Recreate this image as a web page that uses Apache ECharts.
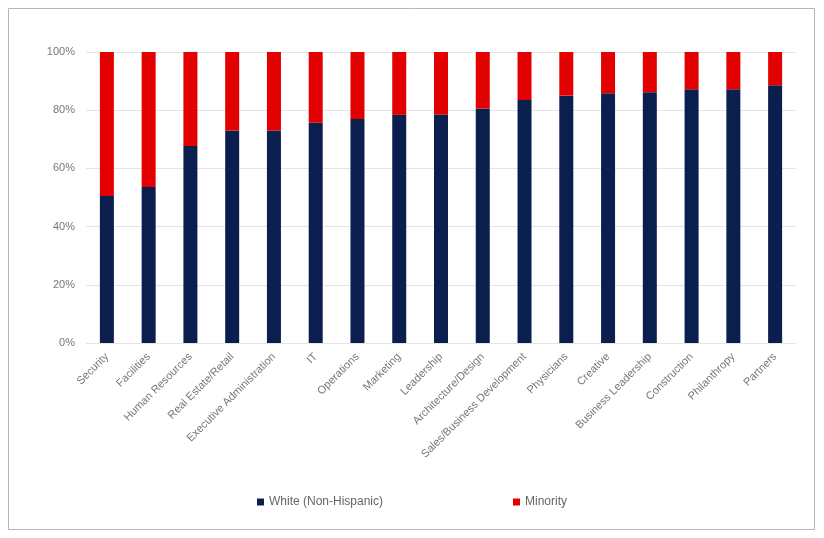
<!DOCTYPE html>
<html><head><meta charset="utf-8">
<script src="https://cdn.jsdelivr.net/npm/echarts@6/dist/echarts.min.js"></script>
<style>html,body{margin:0;padding:0;background:#fff}#c{width:824px;height:538px}</style>
</head><body><div id="c"></div>
<script>
var categories = ["Security","Facilities","Human Resources","Real Estate/Retail","Executive Administration","IT","Operations","Marketing","Leadership","Architecture/Design","Sales/Business Development","Physicians","Creative","Business Leadership","Construction","Philanthropy","Partners"];
var whiteShare = [50.5,53.6,67.7,73,73,75.7,77,78.4,78.5,80.6,83.5,85,85.8,86.2,87.2,87.2,88.6];
var minorityShare = whiteShare.map(function(v){return +(100-v).toFixed(1);});
var yTicks = [0,20,40,60,80,100];

var chart = echarts.init(document.getElementById('c'));
chart.setOption({
  animation:false,
  textStyle:{fontFamily:'Liberation Sans, Arial, sans-serif'},
  graphic:[{type:'rect',shape:{x:8.5,y:8.5,width:806,height:521},style:{fill:'none',stroke:'#b5b5b5',lineWidth:1}}],
  grid:{left:86,right:28,top:52,bottom:195},
  legend:{top:491,left:'center',itemWidth:7,itemHeight:7,itemGap:130,icon:'rect',
    textStyle:{color:'#666',fontSize:12},data:['White (Non-Hispanic)','Minority']},
  xAxis:{type:'category',data:categories,axisLine:{show:false},axisTick:{show:false},
    axisLabel:{rotate:45,color:'#777',fontSize:11,interval:0,margin:12}},
  yAxis:{type:'value',min:0,max:100,interval:20,
    axisLabel:{color:'#777',fontSize:11,margin:11,formatter:function(v){return v+'%';}},
    splitLine:{lineStyle:{color:'#e4e4e4'}},axisLine:{show:false},axisTick:{show:false}},
  series:[
    {name:'White (Non-Hispanic)',type:'bar',stack:'a',data:whiteShare,barWidth:14,itemStyle:{color:'#0b1f4f'}},
    {name:'Minority',type:'bar',stack:'a',data:minorityShare,barWidth:14,itemStyle:{color:'#e30000'}}
  ]
});
</script></body></html>
